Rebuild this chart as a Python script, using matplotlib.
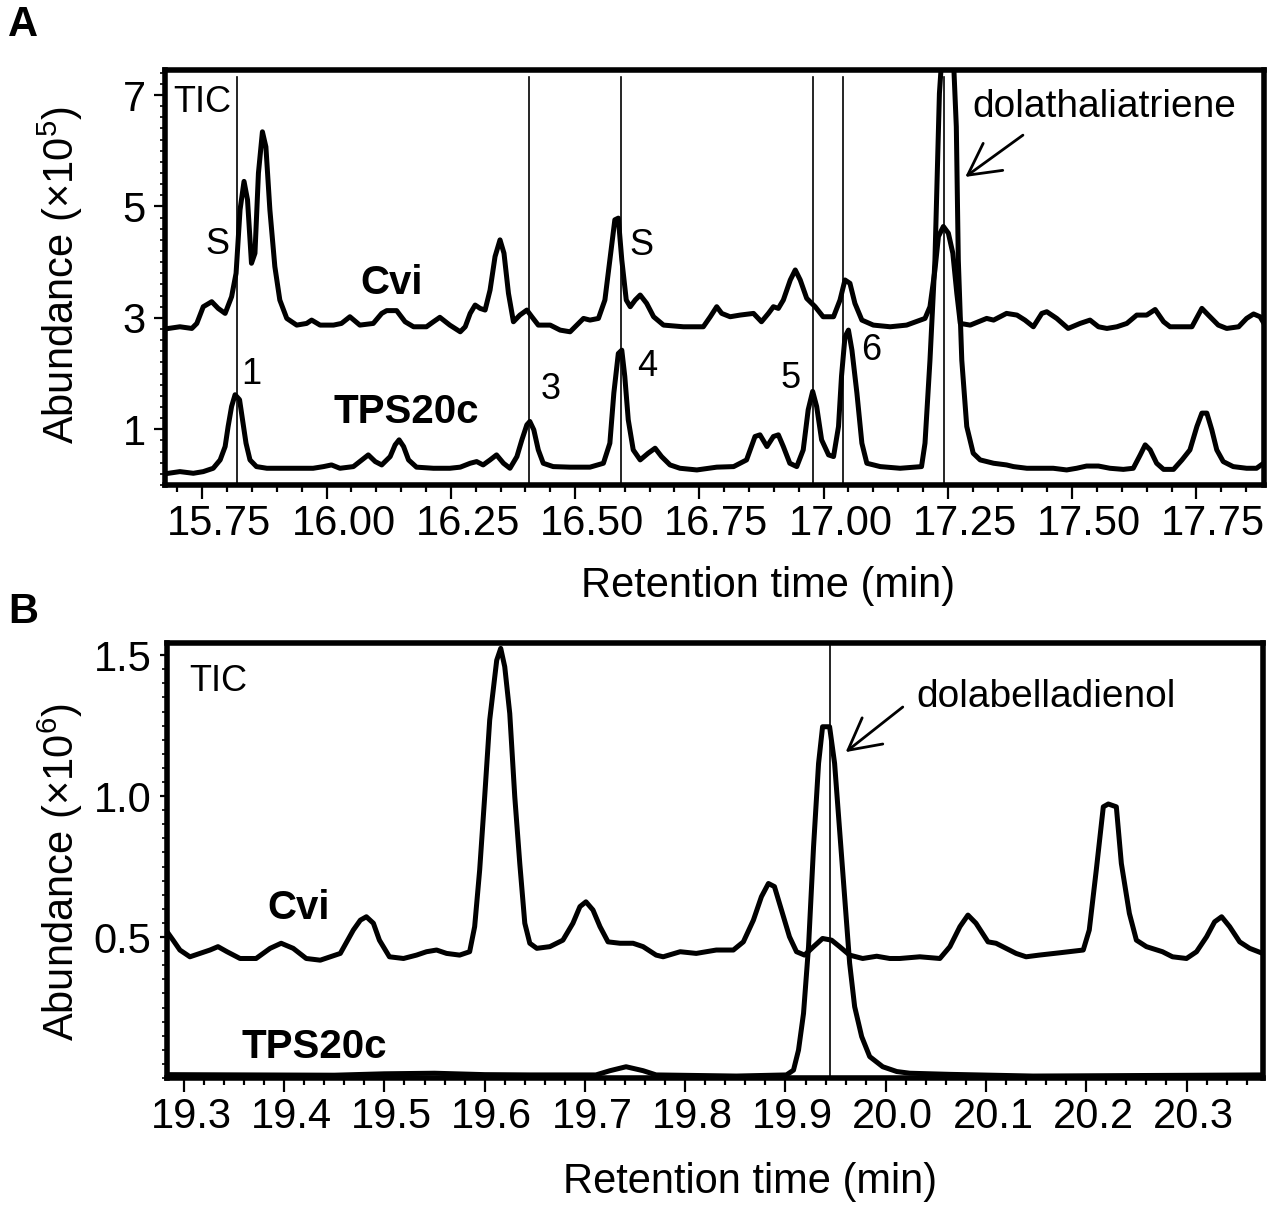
import matplotlib
matplotlib.use("Agg")
import matplotlib.pyplot as plt
import matplotlib.transforms as mtransforms
from matplotlib.ticker import MultipleLocator, FixedLocator

plt.rcParams['font.family'] = ['Liberation Sans', 'DejaVu Sans']
plt.rcParams['mathtext.fontset'] = 'custom'
plt.rcParams['mathtext.rm'] = 'Liberation Sans'

# ---- panel A : Cvi and TPS20c total ion chromatograms (x10^5) ----
cvi_a_t = [15.682, 15.705, 15.729, 15.739, 15.752, 15.769, 15.782, 15.796, 15.809, 15.818,
           15.826, 15.834, 15.841, 15.849, 15.856, 15.863, 15.871, 15.878, 15.886, 15.896,
           15.906, 15.920, 15.940, 15.960, 15.970, 15.987, 16.014, 16.030, 16.047, 16.067,
           16.094, 16.111, 16.121, 16.141, 16.158, 16.175, 16.201, 16.215, 16.228,
           16.248, 16.269, 16.279, 16.289, 16.299, 16.309, 16.319, 16.329, 16.339, 16.349,
           16.357, 16.366, 16.376, 16.389, 16.403, 16.413, 16.426, 16.450, 16.470, 16.490,
           16.507, 16.517, 16.530, 16.547, 16.560, 16.570, 16.580, 16.587, 16.594, 16.603,
           16.611, 16.621, 16.631, 16.644, 16.658, 16.678, 16.718, 16.758, 16.772, 16.785,
           16.795, 16.812, 16.832,
           16.859, 16.875, 16.889, 16.899, 16.909, 16.919, 16.933, 16.943, 16.953, 16.966,
           16.983, 16.999, 17.020, 17.033, 17.043, 17.053, 17.063, 17.077, 17.100, 17.134,
           17.167, 17.204, 17.214, 17.224, 17.231, 17.241, 17.251, 17.260, 17.268, 17.275,
           17.295, 17.328, 17.342,
           17.368, 17.389, 17.405, 17.422, 17.439, 17.449, 17.469, 17.492, 17.516, 17.536,
           17.553, 17.570, 17.590, 17.610, 17.630, 17.650, 17.667, 17.684, 17.697, 17.741,
           17.761, 17.774, 17.794, 17.811, 17.835, 17.851, 17.865, 17.878, 17.888]
cvi_a_y = [2.81, 2.84, 2.81, 2.90, 3.20, 3.29, 3.17, 3.08, 3.38, 3.80,
           4.94, 5.45, 5.12, 3.98, 4.16, 5.60, 6.34, 6.07, 4.94, 3.92,
           3.32, 2.99, 2.87, 2.90, 2.96, 2.87, 2.87, 2.90, 3.02, 2.87,
           2.90, 3.08, 3.13, 3.13, 2.93, 2.84, 2.84, 2.93, 3.01,
           2.87, 2.75, 2.84, 3.08, 3.23, 3.17, 3.14, 3.50, 4.10, 4.40,
           4.16, 3.44, 2.93, 3.05, 3.14, 3.02, 2.87, 2.87, 2.78, 2.75,
           2.90, 2.99, 2.96, 2.99, 3.32, 4.04, 4.76, 4.79, 4.04, 3.32,
           3.20, 3.32, 3.41, 3.26, 3.02, 2.87, 2.84, 2.84, 3.02, 3.20,
           3.08, 3.02, 3.05,
           3.08, 2.93, 3.08, 3.20, 3.17, 3.32, 3.68, 3.86, 3.68, 3.35,
           3.20, 3.02, 3.02, 3.32, 3.68, 3.62, 3.26, 2.96, 2.87, 2.84,
           2.87, 2.99, 3.20, 3.86, 4.46, 4.64, 4.52, 4.16, 3.44, 2.90,
           2.87, 2.99, 2.96,
           3.08, 3.05, 2.96, 2.84, 3.08, 3.11, 2.99, 2.81, 2.90, 2.96,
           2.84, 2.81, 2.84, 2.90, 3.05, 3.05, 3.15, 2.93, 2.84, 2.84,
           3.17, 3.05, 2.87, 2.81, 2.84, 2.99, 3.07, 3.02, 2.87]

tps_a_t = [15.682, 15.705, 15.732, 15.752, 15.772, 15.786, 15.796, 15.802, 15.809, 15.816,
           15.825, 15.831, 15.838, 15.846, 15.859, 15.880, 15.933, 15.973, 15.994, 16.010,
           16.027, 16.054, 16.067, 16.084, 16.098, 16.111, 16.128, 16.138, 16.146, 16.155,
           16.165, 16.181, 16.215,
           16.248, 16.269, 16.289, 16.302, 16.315, 16.329, 16.342, 16.356, 16.369, 16.383,
           16.393, 16.403, 16.409, 16.417, 16.426, 16.436, 16.456, 16.490, 16.530, 16.557,
           16.570, 16.578, 16.587, 16.594, 16.600, 16.607, 16.617, 16.631, 16.647, 16.661,
           16.674, 16.691, 16.711, 16.745, 16.785, 16.819,
           16.845, 16.862, 16.872, 16.886, 16.899, 16.909, 16.919, 16.932, 16.946, 16.959,
           16.969, 16.978, 16.986, 16.996, 17.010, 17.020, 17.030, 17.036, 17.043, 17.050,
           17.057, 17.067, 17.077, 17.087, 17.114, 17.154, 17.197, 17.204, 17.214, 17.224,
           17.233, 17.238, 17.249, 17.261, 17.267, 17.271, 17.278, 17.288, 17.301, 17.315,
           17.342, 17.368,
           17.382, 17.409, 17.462, 17.489, 17.509, 17.529, 17.553, 17.576, 17.603, 17.623,
           17.637, 17.647, 17.657, 17.670, 17.684, 17.704, 17.721, 17.737, 17.751, 17.761,
           17.771, 17.781, 17.791, 17.804, 17.824, 17.851, 17.871, 17.885]
tps_a_y = [0.21, 0.24, 0.21, 0.24, 0.30, 0.45, 0.69, 1.05, 1.41, 1.62,
           1.53, 1.17, 0.75, 0.45, 0.33, 0.30, 0.30, 0.30, 0.33, 0.36,
           0.30, 0.33, 0.42, 0.54, 0.42, 0.36, 0.51, 0.72, 0.81, 0.69,
           0.45, 0.32, 0.30,
           0.30, 0.32, 0.39, 0.42, 0.36, 0.45, 0.54, 0.39, 0.30, 0.51,
           0.81, 1.08, 1.14, 0.99, 0.63, 0.39, 0.33, 0.32, 0.32, 0.39,
           0.75, 1.65, 2.36, 2.42, 1.95, 1.17, 0.63, 0.45, 0.57, 0.66,
           0.51, 0.36, 0.30, 0.27, 0.32, 0.33,
           0.45, 0.87, 0.90, 0.69, 0.87, 0.90, 0.69, 0.39, 0.33, 0.63,
           1.35, 1.68, 1.41, 0.81, 0.54, 0.51, 1.05, 1.95, 2.66, 2.78,
           2.42, 1.65, 0.75, 0.39, 0.33, 0.30, 0.33, 0.75, 2.24, 4.04,
           7.03, 7.70, 8.60, 7.70, 6.43, 4.04, 2.24, 1.05, 0.57, 0.45,
           0.39, 0.36,
           0.33, 0.30, 0.30, 0.27, 0.30, 0.34, 0.34, 0.30, 0.28, 0.30,
           0.54, 0.72, 0.63, 0.39, 0.28, 0.28, 0.45, 0.63, 1.05, 1.29,
           1.29, 0.99, 0.63, 0.42, 0.33, 0.30, 0.30, 0.39]

marks_a = [15.819, 16.407, 16.592, 16.978, 17.040, 17.243]
peak_nums = ['1', '3', '4', '5', '6']
peak_num_t = [15.848, 16.450, 16.645, 16.934, 17.096]
peak_num_y = [1.98, 1.71, 2.12, 1.92, 2.41]
solvent_t = [15.780, 16.634]
solvent_y = [4.31, 4.29]

# ---- panel B : (x10^6) ----
cvi_b_t = [19.283, 19.289, 19.296, 19.306, 19.316, 19.326, 19.334, 19.343, 19.356, 19.372,
           19.386, 19.397, 19.409, 19.422, 19.436, 19.456, 19.469, 19.476, 19.482, 19.489,
           19.495, 19.505, 19.519, 19.532, 19.542, 19.552, 19.562, 19.575, 19.585, 19.590,
           19.595, 19.600, 19.605, 19.612, 19.616, 19.620, 19.625, 19.630, 19.635, 19.640,
           19.645,
           19.652, 19.665, 19.678, 19.688, 19.695, 19.701, 19.708, 19.715, 19.723, 19.735,
           19.748, 19.758, 19.771, 19.778, 19.795, 19.811, 19.831, 19.848, 19.858, 19.868,
           19.876, 19.883, 19.889, 19.896, 19.904, 19.911, 19.919, 19.928, 19.937, 19.946,
           19.954, 19.964, 19.977, 19.991, 20.004,
           20.014, 20.034, 20.054, 20.064, 20.074, 20.082, 20.090, 20.102, 20.110, 20.120,
           20.130, 20.140, 20.153, 20.173, 20.197, 20.203, 20.210, 20.217, 20.222, 20.230,
           20.235, 20.243, 20.250, 20.260, 20.276, 20.286, 20.300, 20.310, 20.320, 20.328,
           20.335, 20.343, 20.353, 20.363, 20.376]
cvi_b_y = [0.520, 0.490, 0.454, 0.430, 0.442, 0.454, 0.466, 0.448, 0.424, 0.424,
           0.460, 0.478, 0.460, 0.424, 0.418, 0.442, 0.525, 0.560, 0.572, 0.549,
           0.489, 0.430, 0.424, 0.436, 0.448, 0.454, 0.442, 0.436, 0.448, 0.537,
           0.738, 0.998, 1.270, 1.482, 1.524, 1.459, 1.293, 0.998, 0.761, 0.549,
           0.478,
           0.460, 0.466, 0.489, 0.549, 0.608, 0.625, 0.596, 0.537, 0.483, 0.478,
           0.478, 0.466, 0.436, 0.430, 0.448, 0.442, 0.454, 0.454, 0.483, 0.560,
           0.643, 0.690, 0.679, 0.596, 0.501, 0.448, 0.436, 0.466, 0.495, 0.489,
           0.466, 0.436, 0.424, 0.432, 0.424,
           0.424, 0.430, 0.424, 0.466, 0.537, 0.578, 0.549, 0.483, 0.478, 0.460,
           0.442, 0.430, 0.436, 0.444, 0.454, 0.525, 0.738, 0.962, 0.972, 0.962,
           0.761, 0.584, 0.489, 0.466, 0.448, 0.430, 0.424, 0.448, 0.501, 0.554,
           0.572, 0.537, 0.483, 0.460, 0.442]

tps_b_t = [19.283, 19.450, 19.500, 19.550, 19.600, 19.645, 19.711, 19.725, 19.741, 19.758,
           19.771, 19.851, 19.901, 19.908, 19.913, 19.918, 19.923, 19.928, 19.933, 19.937,
           19.944, 19.949, 19.954, 19.959, 19.964, 19.969, 19.976, 19.984, 19.997, 20.011,
           20.024, 20.064, 20.147, 20.376]
tps_b_y = [0.012, 0.010, 0.015, 0.017, 0.012, 0.011, 0.011, 0.026, 0.040, 0.026,
           0.011, 0.007, 0.011, 0.028, 0.099, 0.229, 0.466, 0.820, 1.116, 1.246,
           1.246, 1.116, 0.879, 0.643, 0.407, 0.253, 0.147, 0.076, 0.040, 0.023,
           0.017, 0.013, 0.007, 0.011]

marks_b = [19.944]

fig = plt.figure(figsize=(12.8, 12.21), dpi=100)
axA = fig.add_axes([0.1289, 0.6028, 0.8586, 0.3399])
axB = fig.add_axes([0.1302, 0.1171, 0.8563, 0.3565])

line_kw = dict(color='black', lw=3.6, solid_joinstyle='round')
arrow_kw = dict(arrowstyle='->,head_length=0.75,head_width=0.4', lw=2.0,
                color='black', mutation_scale=30, shrinkA=0, shrinkB=0)


def style_axis(ax, xmaj, xmin, ymaj, ymin, ylen):
    for s in ax.spines.values():
        s.set_linewidth(4)
    ax.xaxis.set_major_locator(xmaj)
    ax.xaxis.set_minor_locator(MultipleLocator(xmin))
    ax.yaxis.set_major_locator(ymaj)
    ax.yaxis.set_minor_locator(MultipleLocator(ymin))
    ax.tick_params(axis='x', which='major', direction='out', length=10, width=1.6,
                   labelsize=30, pad=4)
    ax.tick_params(axis='x', which='minor', direction='out', length=5, width=1.6)
    ax.tick_params(axis='y', which='major', direction='out', length=ylen, width=1.6,
                   labelsize=30, pad=6)
    ax.tick_params(axis='y', which='minor', direction='out', length=3.5, width=1.2)


def shift_xlabels(ax, dx_px):
    off = mtransforms.ScaledTranslation(dx_px / 100.0, 0, fig.dpi_scale_trans)
    for lab in ax.get_xticklabels():
        lab.set_transform(lab.get_transform() + off)


# panel A
axA.plot(cvi_a_t, cvi_a_y, **line_kw)
axA.plot(tps_a_t, tps_a_y, **line_kw)
for m in marks_a:
    axA.plot([m, m], [0, 7.32], color='black', lw=1.2)
axA.set_xlim(15.675, 17.886)
axA.set_ylim(0, 7.45)
style_axis(axA, FixedLocator([15.75, 16.0, 16.25, 16.5, 16.75, 17.0, 17.25, 17.5, 17.75]),
           0.05, FixedLocator([1, 3, 5, 7]), 0.2, 8)
axA.set_xticklabels(['15.75', '16.00', '16.25', '16.50', '16.75', '17.00', '17.25', '17.50', '17.75'])
axA.set_yticklabels(['1', '3', '5', '7'])
shift_xlabels(axA, 17)

axA.text(15.691, 6.86, 'TIC', fontsize=26, ha='left', va='center')
for t, y in zip(solvent_t, solvent_y):
    axA.text(t, y, 'S', fontsize=26, ha='center', va='center')
for s, t, y in zip(peak_nums, peak_num_t, peak_num_y):
    axA.text(t, y, s, fontsize=26, ha='center', va='center')
axA.text(16.130, 3.63, 'Cvi', fontsize=29, fontweight='bold', ha='center', va='center')
axA.text(16.160, 1.31, 'TPS20c', fontsize=29, fontweight='bold', ha='center', va='center')
axA.text(17.300, 6.61, 'dolathaliatriene', fontsize=28, ha='left', va='baseline')
axA.annotate('', xy=(17.285, 5.53), xytext=(17.401, 6.28), arrowprops=arrow_kw)

# panel B
axB.plot(cvi_b_t, cvi_b_y, **line_kw)
axB.plot(tps_b_t, tps_b_y, **line_kw)
for m in marks_b:
    axB.plot([m, m], [0, 1.544], color='black', lw=1.2)
axB.set_xlim(19.2828, 20.376)
axB.set_ylim(0, 1.544)
style_axis(axB, FixedLocator([19.3, 19.4, 19.5, 19.6, 19.7, 19.8, 19.9, 20.0, 20.1, 20.2, 20.3]),
           0.02, FixedLocator([0.5, 1.0, 1.5]), 0.05, 5)
axB.set_xticklabels(['19.3', '19.4', '19.5', '19.6', '19.7', '19.8', '19.9', '20.0', '20.1', '20.2', '20.3'])
axB.set_yticklabels(['0.5', '1.0', '1.5'])
shift_xlabels(axB, 7)

axB.text(19.305, 1.408, 'TIC', fontsize=26, ha='left', va='center')
axB.text(19.414, 0.603, 'Cvi', fontsize=29, fontweight='bold', ha='center', va='center')
axB.text(19.430, 0.110, 'TPS20c', fontsize=29, fontweight='bold', ha='center', va='center')
axB.text(20.031, 1.316, 'dolabelladienol', fontsize=28, ha='left', va='baseline')
axB.annotate('', xy=(19.960, 1.156), xytext=(20.017, 1.316), arrowprops=arrow_kw)

# axis titles and panel letters
fig.text(768 / 1280, 1 - 586 / 1221, 'Retention time (min)', fontsize=30, ha='center', va='center')
fig.text(750 / 1280, 1 - 1182 / 1221, 'Retention time (min)', fontsize=30, ha='center', va='center')
fig.text(60 / 1280, 1 - 275 / 1221, 'Abundance (\u00d710$^{5}$)', fontsize=30,
         rotation=90, ha='center', va='center')
fig.text(60 / 1280, 1 - 872 / 1221, 'Abundance (\u00d710$^{6}$)', fontsize=30,
         rotation=90, ha='center', va='center')
fig.text(8 / 1280, 1 - 36 / 1221, 'A', fontsize=30, fontweight='bold', ha='left', va='baseline')
fig.text(8 / 1280, 1 - 623 / 1221, 'B', fontsize=30, fontweight='bold', ha='left', va='baseline')

fig.savefig('out.png', dpi=100)
